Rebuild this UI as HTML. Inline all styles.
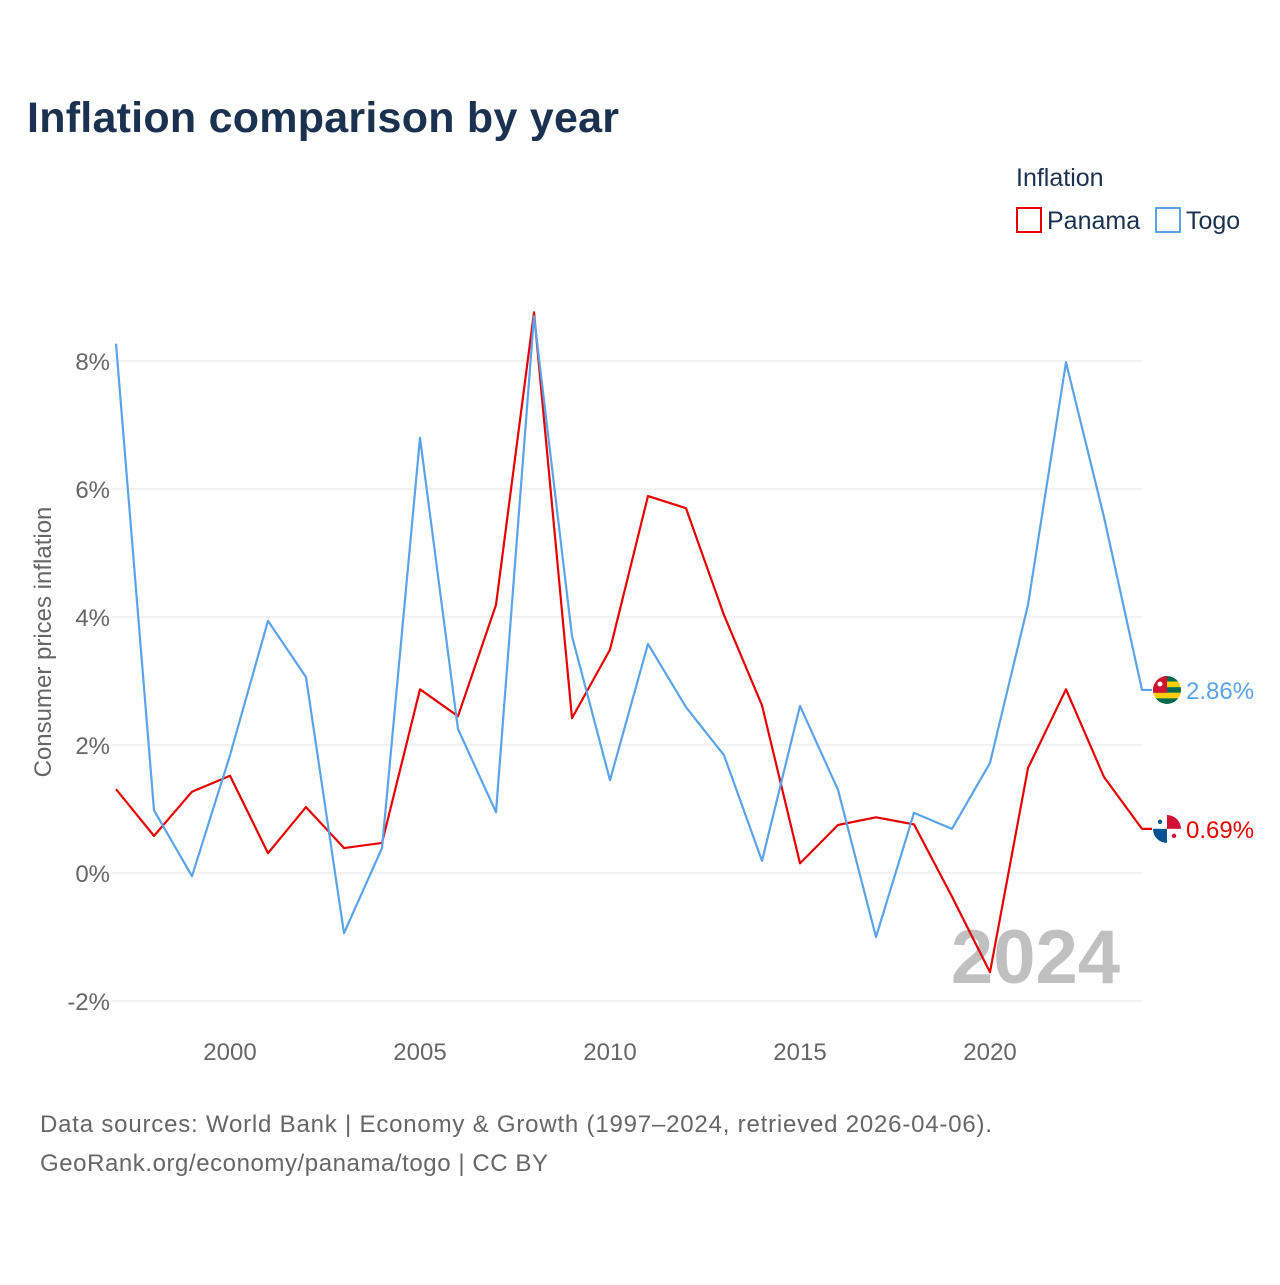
<!DOCTYPE html>
<html><head><meta charset="utf-8"><style>
body{margin:0;background:#fff;font-family:"Liberation Sans",sans-serif}
</style></head><body>
<svg width="1280" height="1280" xmlns="http://www.w3.org/2000/svg" id="chart">
<defs>
<clipPath id="cTogo"><circle cx="1167" cy="690" r="14"/></clipPath>
<clipPath id="cPan"><circle cx="1167" cy="829" r="14"/></clipPath>
</defs>
<rect width="1280" height="1280" fill="#fff"/>
<text x="27" y="132" font-size="43" font-weight="bold" fill="#1a3150" textLength="592">Inflation comparison by year</text>
<text x="1016" y="186" font-size="25" fill="#1a3150">Inflation</text>
<g><rect x="1017" y="208" width="24" height="24" fill="none" stroke="#e60000" stroke-width="2"/><text x="1047" y="229" font-size="25" fill="#1a3150">Panama</text></g>
<g><rect x="1156" y="208" width="24" height="24" fill="none" stroke="#5ba3e8" stroke-width="2"/><text x="1186" y="229" font-size="25" fill="#1a3150">Togo</text></g>
<g id="grid"></g><g id="axes"></g>
<text x="1120" y="983" font-size="76" font-weight="bold" fill="#c0c0c0" text-anchor="end">2024</text>
<g id="series"></g>
<text transform="translate(51,642) rotate(-90)" font-size="24" fill="#666" text-anchor="middle">Consumer prices inflation</text>
<text x="40" y="1132" font-size="24" fill="#666" textLength="952">Data sources: World Bank | Economy &amp; Growth (1997–2024, retrieved 2026-04-06).</text>
<text x="40" y="1171" font-size="24" fill="#666" textLength="508">GeoRank.org/economy/panama/togo | CC BY</text>
</svg>
<script>
const years=[1997,1998,1999,2000,2001,2002,2003,2004,2005,2006,2007,2008,2009,2010,2011,2012,2013,2014,2015,2016,2017,2018,2019,2020,2021,2022,2023,2024];
const togo=[8.27,0.98,-0.05,1.84,3.94,3.06,-0.94,0.39,6.80,2.25,0.95,8.70,3.70,1.45,3.58,2.59,1.84,0.19,2.61,1.30,-1.00,0.94,0.69,1.72,4.19,7.98,5.56,2.86];
const panama=[1.31,0.58,1.27,1.52,0.31,1.03,0.39,0.47,2.87,2.45,4.19,8.76,2.42,3.49,5.89,5.70,4.03,2.62,0.15,0.75,0.87,0.76,-0.37,-1.55,1.64,2.87,1.50,0.69];
const yTicks=[-2,0,2,4,6,8];
const xTicks=[2000,2005,2010,2015,2020];
const NS="http://www.w3.org/2000/svg";
const X=y=>116+(y-1997)*38;
const Y=v=>873-v*64;
function mk(t,a,p){const e=document.createElementNS(NS,t);for(const k in a)e.setAttribute(k,a[k]);p.appendChild(e);return e;}
const grid=document.getElementById('grid'),axes=document.getElementById('axes'),ser=document.getElementById('series');
yTicks.forEach(v=>{
 const l=mk('line',{x1:110,x2:1142,y1:Y(v),y2:Y(v),stroke:'#e6e6e6','stroke-width':1},grid);
 
 
 const t=mk('text',{x:110,y:Y(v)+9,'font-size':24,fill:'#666','text-anchor':'end'},axes);
 t.textContent=v+'%';
 
 
});
xTicks.forEach(y=>{
 const t=mk('text',{x:X(y),y:1060,'font-size':24,fill:'#666','text-anchor':'middle'},axes);
 t.textContent=y;
 
 
});
function line(vals,color,name,clip){
 let d=vals.map((v,i)=>(i?'L':'M')+X(years[i])+','+Y(v)).join(' ');
 d+=' L1152,'+Y(vals[vals.length-1]);
 const p=mk('path',{d:d,fill:'none',stroke:color,'stroke-width':2.2,'stroke-linejoin':'round'},ser);
 
 
 const last=vals[vals.length-1];
 const cy=Y(last);
 const g=mk('g',{'clip-path':'url(#'+clip+')'},ser);
 
 
 if(name==='togo'){
  const cols=['#006a4e','#ffce00','#006a4e','#ffce00','#006a4e'];
  cols.forEach((c,i)=>mk('rect',{x:1153,y:cy-14+i*5.6,width:28,height:5.7,fill:c},g));
  mk('rect',{x:1153,y:cy-14,width:14,height:16.8,fill:'#d21034'},g);
  mk('circle',{cx:1160,cy:cy-6,r:2.5,fill:'#fff'},g);
 }else{
  mk('rect',{x:1153,y:cy-14,width:28,height:28,fill:'#fff'},g);
  mk('rect',{x:1167,y:cy-14,width:14,height:14,fill:'#d21034'},g);
  mk('rect',{x:1153,y:cy,width:14,height:14,fill:'#005293'},g);
  mk('circle',{cx:1160,cy:cy-7,r:2.2,fill:'#005293'},g);
  mk('circle',{cx:1174,cy:cy+7,r:2.2,fill:'#d21034'},g);
 }
 const t=mk('text',{x:1186,y:cy+9,'font-size':24,fill:color},ser);
 t.textContent=last.toFixed(2)+'%';
 
 
}
line(panama,'#e60000','panama','cPan');
line(togo,'#5ba3e8','togo','cTogo');
</script>
</body></html>
